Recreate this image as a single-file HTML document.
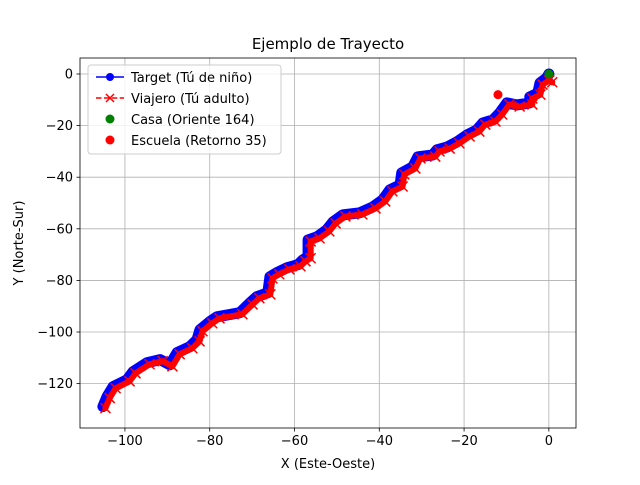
<!DOCTYPE html>
<html><head><meta charset="utf-8"><style>
body{margin:0;background:#fff}
svg text{font-family:"DejaVu Sans","Liberation Sans",sans-serif;fill:#000}
</style></head><body>
<svg width="640" height="480" viewBox="0 0 640 480" xmlns="http://www.w3.org/2000/svg" id="c"></svg>
<script>
const targetX=[-105.2,-104.2,-102.8,-99.5,-98.1,-94.8,-91.7,-89.4,-87.7,-84.7,-83,-82.3,-80,-78.3,-72.9,-70.5,-68.9,-66.3,-65.8,-64.2,-61.8,-59.2,-58,-56.8,-56.8,-54.7,-52.4,-50.9,-48.6,-44.6,-41.5,-39.2,-37.5,-35.1,-34.7,-32.1,-30.9,-27.4,-26.4,-24,-21.7,-19.3,-17,-15.6,-13.2,-11.6,-9.9,-7.5,-4.5,-4.5,-2.6,-2.1,-0.5,0];
const targetY=[-128.9,-125,-121.2,-118.5,-115.4,-111.9,-110.7,-112.7,-108,-105.7,-103,-99.1,-96,-94.1,-92.5,-88.7,-86.3,-84.8,-78.6,-77,-75.1,-73.9,-72,-70.8,-64.3,-63.1,-60.4,-57.3,-54.6,-53.8,-51.5,-48.8,-44.9,-43,-38.3,-36,-32.1,-31.4,-29.4,-28.3,-26.3,-23.6,-21.7,-19,-17.8,-15.1,-11.2,-12,-11.2,-8.9,-7.4,-3.5,-1.5,0];
const travX=[-104.6,-103.6,-102.2,-98.9,-97.5,-94.2,-91.1,-88.8,-87.1,-84.1,-82.4,-81.7,-79.4,-77.7,-72.3,-69.9,-68.3,-65.7,-65.2,-63.6,-61.2,-58.6,-57.4,-56.2,-56.2,-54.1,-51.8,-50.3,-48,-44,-40.9,-38.6,-36.9,-34.5,-34.1,-31.5,-30.3,-26.8,-25.8,-23.4,-21.1,-18.7,-16.4,-15,-12.6,-11,-9.3,-6.9,-3.9,-3.9,-2,-1.5,0.1,0.8];
const travY=[-129.5,-125.6,-121.8,-119.1,-116,-112.5,-111.3,-113.3,-108.6,-106.3,-103.6,-99.7,-96.6,-94.7,-93.1,-89.3,-86.9,-85.4,-79.2,-77.6,-75.7,-74.5,-72.6,-71.4,-64.9,-63.7,-61,-57.9,-55.2,-54.4,-52.1,-49.4,-45.5,-43.6,-38.9,-36.6,-32.7,-32,-30,-28.9,-26.9,-24.2,-22.3,-19.6,-18.4,-15.7,-11.8,-12.6,-11.8,-9.5,-8,-4.1,-2.5,-3.2];
const casa=[0,0];
const escuela=[-12,-8];
const xTicks=[-100,-80,-60,-40,-20,0];
const yTicks=[0,-20,-40,-60,-80,-100,-120];
const L=80,R=576,T=58,B=428;
const xmin=-110.6,xmax=6.4,ymin=-137.2,ymax=6.2;
const sx=v=>L+(v-xmin)/(xmax-xmin)*(R-L);
const sy=v=>B-(v-ymin)/(ymax-ymin)*(B-T);
const svg=document.getElementById('c');
const NS='http://www.w3.org/2000/svg';
function mk(tag,attrs,parent){const e=document.createElementNS(NS,tag);for(const k in attrs)e.setAttribute(k,attrs[k]);(parent||svg).appendChild(e);return e;}
const grid=mk('g',{});


xTicks.forEach(t=>{
 const l=mk('line',{x1:sx(t),x2:sx(t),y1:T,y2:B,stroke:'#b0b0b0','stroke-width':0.8},grid);
 
 
 const tk=mk('line',{x1:sx(t),x2:sx(t),y1:B,y2:B+3.5,stroke:'#000','stroke-width':0.8});
 
 
 const tx=mk('text',{x:sx(t),y:B+17,'text-anchor':'middle','font-size':'13'});
 tx.textContent=t===0?'0':'\u2212'+Math.abs(t);
 
 
});
yTicks.forEach(t=>{
 const l=mk('line',{x1:L,x2:R,y1:sy(t),y2:sy(t),stroke:'#b0b0b0','stroke-width':0.8},grid);
 
 
 const tk=mk('line',{x1:L-3.5,x2:L,y1:sy(t),y2:sy(t),stroke:'#000','stroke-width':0.8});
 
 
 const tx=mk('text',{x:L-7,y:sy(t)+4.5,'text-anchor':'end','font-size':'13'});
 tx.textContent=t===0?'0':'\u2212'+Math.abs(t);
 
 
});
function pts(xs,ys){return xs.map((x,i)=>sx(x)+','+sy(ys[i])).join(' ');}
const tg=mk('g',{});


mk('polyline',{points:pts(targetX,targetY),fill:'none',stroke:'#0000ff','stroke-width':11,'stroke-linejoin':'round','stroke-linecap':'round'},tg);
mk('polyline',{points:pts(targetX,targetY),fill:'none',stroke:'#0000ff','stroke-width':1.5},tg);
targetX.forEach((x,i)=>{const c=mk('circle',{cx:sx(x),cy:sy(targetY[i]),r:5,fill:'#0000ff'},tg);
 
 });
const vg=mk('g',{});


mk('polyline',{points:pts(travX,travY),fill:'none',stroke:'#ff0000','stroke-width':6,'stroke-linejoin':'round','stroke-linecap':'round'},vg);
mk('polyline',{points:pts(travX,travY),fill:'none',stroke:'#ff0000','stroke-width':1.5,'stroke-dasharray':'5.5,2.4'},vg);
travX.forEach((x,i)=>{const cx=sx(x),cy=sy(travY[i]);
 const p=mk('path',{d:`M${cx-5},${cy-5}L${cx+5},${cy+5}M${cx-5},${cy+5}L${cx+5},${cy-5}`,stroke:'#ff0000','stroke-width':1.5},vg);
 
 });
const cs=mk('circle',{cx:sx(casa[0]),cy:sy(casa[1]),r:4.5,fill:'#008000'});


const es=mk('circle',{cx:sx(escuela[0]),cy:sy(escuela[1]),r:4.5,fill:'#ff0000'});


</script>
<svg style="position:absolute;left:0;top:0" width="640" height="480">
<rect x="80" y="58" width="496" height="370" fill="none" stroke="#000" stroke-width="0.8"/>
<text x="328" y="49" text-anchor="middle" font-size="15">Ejemplo de Trayecto</text>
<text x="328" y="468" text-anchor="middle" font-size="13">X (Este-Oeste)</text>
<text x="23" y="243" text-anchor="middle" font-size="13" transform="rotate(-90 23 243)">Y (Norte-Sur)</text>
<g>
<rect x="88" y="65" width="193" height="89" rx="3" fill="#fff" fill-opacity="0.8" stroke="#ccc"/>
<g><line x1="96" x2="124" y1="77" y2="77" stroke="#0000ff" stroke-width="1.5"/><circle cx="110" cy="77" r="4" fill="#0000ff"/><text x="131" y="82" font-size="13">Target (Tú de niño)</text></g>
<g><line x1="96" x2="124" y1="98" y2="98" stroke="#ff0000" stroke-width="1.5" stroke-dasharray="5.5,2.4"/><path d="M106,94L114,102M106,102L114,94" stroke="#ff0000" stroke-width="1.5"/><text x="131" y="103" font-size="13">Viajero (Tú adulto)</text></g>
<g><circle cx="110" cy="119" r="4.5" fill="#008000"/><text x="131" y="124" font-size="13">Casa (Oriente 164)</text></g>
<g><circle cx="110" cy="140" r="4.5" fill="#ff0000"/><text x="131" y="145" font-size="13">Escuela (Retorno 35)</text></g>
</g>
</svg>
</body></html>
